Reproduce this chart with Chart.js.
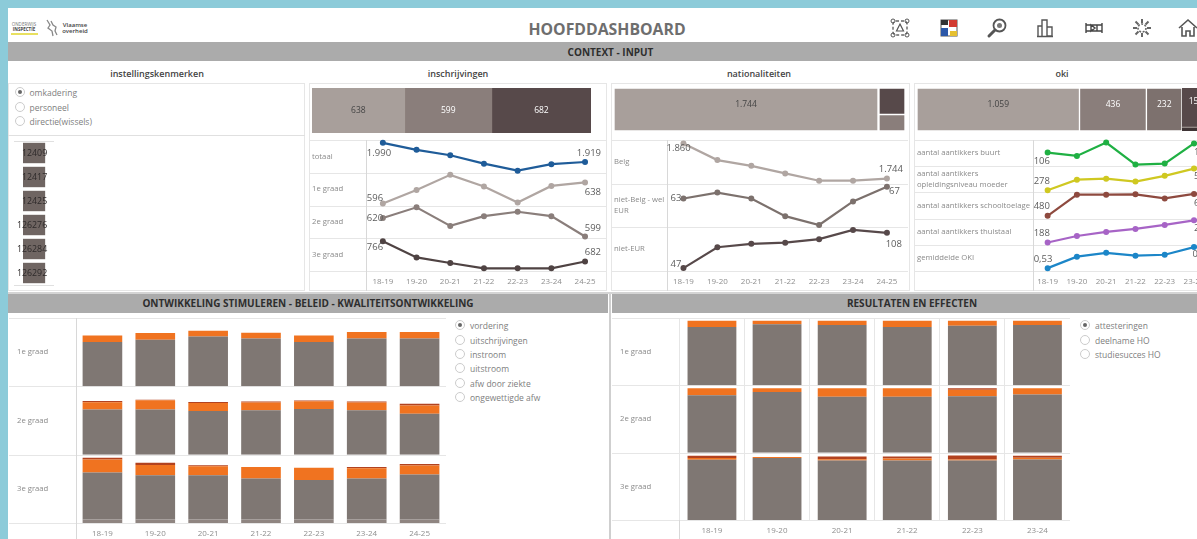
<!DOCTYPE html>
<html>
<head>
<meta charset="utf-8">
<title>Hoofddashboard</title>
<script src="https://cdn.jsdelivr.net/npm/chart.js@4"></script>
<style>
html, body { margin: 0; padding: 0; width: 1197px; height: 539px; overflow: hidden; background: #fff; font-family: "Open Sans", sans-serif; }
canvas { position: absolute; }
.box { position: absolute; }
.txt { position: absolute; white-space: nowrap; transform: translate(-50%, -50%); }
.band { position: absolute; background: #ababab; color: #2e2e2e; font-weight: 700; font-size: 10px; text-align: center; box-sizing: border-box; }
.sub { font-size: 9px; font-weight: 600; color: #444; }
.frame { position: absolute; border: 1px solid #e6e6e6; box-sizing: border-box; }
.radio { position: absolute; width: 10px; height: 10px; border: 1px solid #cccccc; border-radius: 50%; box-sizing: border-box; }
.radio.on::after { content: ""; position: absolute; left: 2px; top: 2px; width: 4px; height: 4px; border-radius: 50%; background: #666; }
.radiotxt { position: absolute; font-size: 8.5px; color: #808080; white-space: nowrap; transform: translateY(-50%); }
svg { position: absolute; }
</style>
</head>
<body>
<script>
// schooljaren
const schoolYears = ['18-19', '19-20', '20-21', '21-22', '22-23', '23-24', '24-25'];
const resultYears = ['18-19', '19-20', '20-21', '21-22', '22-23', '23-24'];
const gradeLabels = ['1e graad', '2e graad', '3e graad'];

// instellingskenmerken
const schoolNumbers = ['12409', '12417', '12425', '126276', '126284', '126292'];
const schoolValues = [8, 8, 8, 8, 8, 8];

// inschrijvingen
const inschrijvingenLabels = ['totaal', '1e graad', '2e graad', '3e graad'];
const inschrijvingenTotaal = [1990, 1964, 1944, 1913, 1887, 1911, 1919];
const inschrijvingen1e = [596, 623, 653, 630, 598, 631, 638];
const inschrijvingen2e = [620, 632, 611, 622, 627, 622, 599];
const inschrijvingen3e = [766, 699, 676, 654, 654, 654, 682];
const inschrijvingenBlocks = [638, 599, 682];

// nationaliteiten
const nationaliteitLabels = ['Belg', ['niet-Belg - wel', 'EUR'], 'niet-EUR'];
const nationaliteitBelg = [1860, 1805, 1786, 1761, 1737, 1737, 1744];
const nationaliteitEur = [63, 65, 63, 57, 54, 62, 67];
const nationaliteitNietEur = [47, 83, 89, 91, 97, 113, 108];
const nationaliteitBlocks = [1744];
const nationaliteitRest = [108, 67];

// oki
const okiLabels = ['aantal aantikkers buurt', ['aantal aantikkers', 'opleidingsniveau moeder'], 'aantal aantikkers schooltoelage', 'aantal aantikkers thuistaal', 'gemiddelde OKI'];
const okiBuurt = [106, 99, 127, 81, 83, 125, 126];
const okiMoeder = [278, 388, 398, 368, 428, 504, 520];
const okiToelage = [480, 636, 636, 638, 608, 641, 640];
const okiThuistaal = [188, 201, 209, 215, 223, 232, 234];
const okiGemiddeld = [0.53, 0.59, 0.61, 0.595, 0.60, 0.64, 0.65];
const okiBlocks = [1059, 436, 232];
const okiRest = [150, 4, 14];

// ontwikkeling stimuleren: vordering per graad
const vordering1eA = [65, 68, 73, 70, 65, 70, 70];
const vordering1eB = [9.4, 9.9, 8.4, 8.4, 9.4, 9.4, 9.4];
const vordering1eC = [0, 0, 0, 0, 0, 0, 0];
const vordering2eA = [66, 66, 64, 65, 67, 65, 60];
const vordering2eB = [10.6, 13.5, 11.5, 11.5, 11.1, 11.5, 12];
const vordering2eC = [1.9, 1, 1.4, 1.4, 1, 1.4, 2.4];
const vordering3eBase = [5, 5, 5, 5, 5, 5, 5];
const vordering3eA = [69, 65, 65, 60, 58, 60, 66];
const vordering3eB = [19, 15, 13, 17, 18, 15, 13];
const vordering3eC = [2.5, 3, 1.5, 0, 0, 2, 2.5];

// resultaten: attesteringen per graad
const attest1eA = [86.6, 90.6, 89.6, 86.6, 88.6, 89.6];
const attest1eB = [9.4, 5.4, 6.4, 9.4, 7.4, 6.4];
const attest1eC = [0, 0, 0, 0, 0, 0];
const attest2eA = [85.4, 90.2, 82.9, 82.9, 83.9, 86.3];
const attest2eB = [10.2, 5.4, 12.7, 12.7, 9.7, 9.3];
const attest2eC = [0, 0, 0, 0, 2, 0];
const attest3eA = [89.4, 91.9, 88.4, 88.4, 88.4, 89.9];
const attest3eB = [2.5, 1.5, 2, 3, 1.5, 2.5];
const attest3eC = [3.5, 0, 4, 3, 6, 3];

const GREY = '#7f7773', ORANGE = '#f07320', RED = '#b2421f', BASE = '#8f8581';
const LIGHT = '#a89f9b', MID = '#8a7e7b', DARK = '#57494a';
const FONT = '"Open Sans", sans-serif';
const LINE_GRID = '#e6e6e6';

function el(cls, css, text, tag) {
    var d = document.createElement(tag || 'div');
    d.className = cls;
    Object.assign(d.style, css);
    if (text) d.textContent = text;
    document.body.appendChild(d);
    return d;
}

function px(v) { return v + 'px'; }

function text(cx, cy, str, css, cls) {
    el('txt ' + (cls || ''), Object.assign({ left: px(cx), top: px(cy) }, css), str);
}

function canvasAt(x, y, w, h) {
    var c = document.createElement('canvas');
    c.width = w; c.height = h;
    c.style.left = px(x); c.style.top = px(y);
    c.style.width = px(w); c.style.height = px(h);
    document.body.appendChild(c);
    return c.getContext('2d');
}

// rijlabels, scheidingslijnen en de as links
const rowFrame = {
    id: 'rowFrame',
    beforeDraw(chart, args, opts) {
        var ctx = chart.ctx, area = chart.chartArea;
        var right = opts.toEdge ? chart.width : area.right;
        ctx.save();
        ctx.strokeStyle = LINE_GRID;
        ctx.lineWidth = 1;
        var labels = chart.$rowLabels;
        labels.forEach(function (lab, i) {
            var s = chart.scales['y' + i];
            [s.top, s.bottom].forEach(function (y) {
                ctx.beginPath();
                ctx.moveTo(0, Math.round(y) + 0.5);
                ctx.lineTo(right, Math.round(y) + 0.5);
                ctx.stroke();
            });
            ctx.fillStyle = '#8a8a8a';
            ctx.font = '7.7px ' + FONT;
            ctx.textBaseline = 'middle';
            ctx.textAlign = 'left';
            var lines = Array.isArray(lab) ? lab : [lab];
            var mid = (s.top + s.bottom) / 2;
            lines.forEach(function (l, k) {
                ctx.fillText(l, opts.labelX, mid + (k - (lines.length - 1) / 2) * 11);
            });
        });
        ctx.beginPath();
        ctx.moveTo(Math.round(area.left) + 0.5, area.top);
        ctx.lineTo(Math.round(area.left) + 0.5, chart.height);
        ctx.strokeStyle = '#d8d8d8';
        ctx.stroke();
        ctx.restore();
    }
};

// eerste en laatste waarde bij elke lijn
const endLabels = {
    id: 'endLabels',
    afterDatasetsDraw(chart) {
        var ctx = chart.ctx, cfg = chart.$endLabels;
        ctx.save();
        ctx.fillStyle = '#5c5c5c';
        ctx.font = '9.5px ' + FONT;
        ctx.textBaseline = 'middle';
        chart.data.datasets.forEach(function (ds, i) {
            var pts = chart.getDatasetMeta(i).data;
            var a = pts[0], b = pts[pts.length - 1];
            var c = cfg[i];
            ctx.textAlign = 'left';
            ctx.fillText(formatValue(ds.data[0]), a.x + c[0], a.y + c[1]);
            ctx.textAlign = 'right';
            ctx.fillText(formatValue(ds.data[pts.length - 1]), b.x + c[2], b.y + c[3]);
        });
        ctx.restore();
    }
};

function formatValue(v) {
    if (v < 1) return v.toFixed(2).replace('.', ',');
    return v >= 1000 ? String(v).replace(/(\d)(\d{3})$/, '$1.$2') : String(v);
}

function rowScales(ranges) {
    var out = {};
    ranges.forEach(function (r, i) {
        out['y' + i] = {
            type: 'linear', position: 'left', stack: 'rows', stackWeight: 1,
            weight: ranges.length - i, min: r[0], max: r[1],
            ticks: { display: false }, grid: { display: false }, border: { display: false },
            afterFit: function (s) { s.width = 0; }
        };
    });
    return out;
}

function xScale(labels, stacked, grid) {
    return {
        type: 'category', labels: labels, offset: true, stacked: stacked,
        ticks: { color: '#8f8f8f', font: { size: 8, family: FONT }, padding: 6, maxRotation: 0, autoSkip: false },
        grid: { display: !!grid, color: LINE_GRID, drawTicks: false, offset: true },
        border: { display: false },
        afterFit: function (s) { s.height = 20; }
    };
}

function linePanel(box, padLeft, years, rowLabels, series, colors, ranges, offsets) {
    var ctx = canvasAt(box[0], box[1], box[2], box[3]);
    var scales = rowScales(ranges);
    scales.x = xScale(years, false);
    var chart = new Chart(ctx, {
        type: 'line',
        data: {
            labels: years,
            datasets: series.map(function (vals, i) {
                return {
                    data: vals, yAxisID: 'y' + i, borderColor: colors[i], backgroundColor: colors[i],
                    borderWidth: 2.2, pointRadius: 1.9, pointHoverRadius: 1.9, tension: 0, clip: false
                };
            })
        },
        options: {
            responsive: false, animation: false, maintainAspectRatio: false,
            layout: { padding: { left: padLeft, right: 0, top: 0, bottom: 0 } },
            plugins: { legend: { display: false }, tooltip: { enabled: false }, rowFrame: { labelX: 3, toEdge: true } },
            scales: scales
        },
        plugins: [{ id: 'cfg', beforeInit(c) { c.$rowLabels = rowLabels; c.$endLabels = offsets; } }, rowFrame, endLabels]
    });
    return chart;
}

function barPanel(box, padLeft, years, stacks, gridX) {
    var ctx = canvasAt(box[0], box[1], box[2], box[3]);
    var scales = rowScales([[0, 100], [0, 100], [0, 100]]);
    Object.keys(scales).forEach(function (k) { scales[k].stacked = true; });
    scales.x = xScale(years, true, gridX);
    var datasets = [];
    stacks.forEach(function (row, r) {
        var fills = row.length === 4 ? [BASE, GREY, ORANGE, RED] : [GREY, ORANGE, RED];
        row.forEach(function (vals, k) {
            datasets.push({ data: vals, yAxisID: 'y' + r, backgroundColor: fills[k], categoryPercentage: 0.75, barPercentage: 1 });
        });
    });
    new Chart(ctx, {
        type: 'bar',
        data: { labels: years, datasets: datasets },
        options: {
            responsive: false, animation: false, maintainAspectRatio: false,
            layout: { padding: { left: padLeft, right: 0, top: 0, bottom: 0 } },
            plugins: { legend: { display: false }, tooltip: { enabled: false }, rowFrame: { labelX: 8, toEdge: false } },
            scales: scales
        },
        plugins: [{ id: 'cfg', beforeInit(c) { c.$rowLabels = gradeLabels; } }, rowFrame]
    });
}

// getallen midden in een blok
const blockLabels = {
    id: 'blockLabels',
    afterDatasetsDraw(chart) {
        var ctx = chart.ctx, o = chart.$block;
        if (!o.show) return;
        ctx.save();
        ctx.font = '8.5px ' + FONT;
        ctx.textAlign = 'center';
        ctx.textBaseline = 'middle';
        chart.data.datasets.forEach(function (ds, i) {
            var p = chart.getDatasetMeta(i).data[0].getCenterPoint();
            ctx.fillStyle = ds.backgroundColor === LIGHT ? '#444' : '#fff';
            ctx.fillText(formatValue(ds.data[0]), p.x, p.y + o.dy);
        });
        ctx.restore();
    }
};

function blocks(box, values, colors, total, horizontal, gap, show, dy) {
    var ctx = canvasAt(box[0], box[1], box[2], box[3]);
    var val = { display: false, stacked: true, min: 0, max: total, reverse: !horizontal };
    var cat = { display: false, stacked: true };
    new Chart(ctx, {
        type: 'bar',
        data: {
            labels: [''],
            datasets: values.map(function (v, i) {
                return {
                    data: [v], backgroundColor: colors[i], categoryPercentage: 1, barPercentage: 1,
                    borderColor: '#fff', borderWidth: gap, borderSkipped: false
                };
            })
        },
        options: {
            indexAxis: horizontal ? 'y' : 'x',
            responsive: false, animation: false, maintainAspectRatio: false,
            layout: { padding: 0 },
            plugins: { legend: { display: false }, tooltip: { enabled: false } },
            scales: horizontal ? { x: val, y: cat } : { x: cat, y: val }
        },
        plugins: [{ id: 'cfg', beforeInit(c) { c.$block = { show: show, dy: dy }; } }, blockLabels]
    });
}

function radios(x, ys, labels) {
    labels.forEach(function (l, i) {
        el('radio' + (i === 0 ? ' on' : ''), { left: px(x - 5), top: px(ys[i] - 5) });
        el('radiotxt', { left: px(x + 10), top: px(ys[i]) }, l);
    });
}

// kaders en banden
el('box', { left: 0, top: 0, width: '1197px', height: '8px', background: '#8ccbd9' });
el('box', { left: 0, top: 0, width: '8px', height: '539px', background: '#8ccbd9' });
el('band', { left: '8px', top: '42px', width: '1189px', height: '19px', lineHeight: '20px', paddingLeft: '16px' }, 'CONTEXT - INPUT');
el('band', { left: '8px', top: '294px', width: '600px', height: '19px', lineHeight: '19px' }, 'ONTWIKKELING STIMULEREN - BELEID - KWALITEITSONTWIKKELING');
el('band', { left: '612px', top: '294px', width: '600px', height: '19px', lineHeight: '19px' }, 'RESULTATEN EN EFFECTEN');
el('box', { left: '8px', top: '292px', width: '1189px', height: '2px', background: '#d4d4d4' });
el('box', { left: '609px', top: '294px', width: '2px', height: '245px', background: '#cfcfcf' });

el('frame', { left: '8px', top: '83px', width: '297px', height: '208px' });
el('frame', { left: '309px', top: '83px', width: '298px', height: '208px' });
el('frame', { left: '611px', top: '83px', width: '299px', height: '208px' });
el('frame', { left: '914px', top: '83px', width: '300px', height: '208px' });
el('box', { left: '8px', top: '135px', width: '297px', height: '1px', background: '#e0e0e0' });
el('box', { left: '14px', top: '141px', width: '40px', height: '1px', background: '#e0e0e0' });
el('box', { left: '14px', top: '285px', width: '40px', height: '1px', background: '#e0e0e0' });

text(607, 28.5, 'HOOFDDASHBOARD', { fontSize: '15.8px', fontWeight: 700, color: '#6e6e6e' });
text(157, 72.5, 'instellingskenmerken', {}, 'sub');
text(458, 72.5, 'inschrijvingen', {}, 'sub');
text(759, 72.5, 'nationaliteiten', {}, 'sub');
text(1062, 72.5, 'oki', {}, 'sub');

// logo
text(24, 24, 'ONDERWIJS', { fontSize: '4.5px', color: '#777' });
text(24, 29, 'INSPECTIE', { fontSize: '4.5px', color: '#444', fontWeight: 700 });
el('box', { left: '11px', top: '33px', width: '27px', height: '2px', background: '#e8e060' });
text(75, 25, 'Vlaamse', { fontSize: '6px', color: '#444', fontWeight: 600 });
text(75, 31, 'overheid', { fontSize: '6px', color: '#444', fontWeight: 600 });
var lion = document.createElementNS('http://www.w3.org/2000/svg', 'svg');
lion.setAttribute('width', '14'); lion.setAttribute('height', '20');
lion.setAttribute('viewBox', '0 0 14 20');
lion.style.left = '44px'; lion.style.top = '18px';
lion.innerHTML = '<path d="M3 2l3 5 -2 3 4 3 1 5M7 3l2 4 3 2 -1 4 2 4" fill="none" stroke="#888" stroke-width="1.3"/>';
document.body.appendChild(lion);

// knoppen rechtsboven
const iconMarkup = [
    '<rect x="4" y="4" width="14" height="14" rx="3" fill="none" stroke="#666" stroke-width="1.4" stroke-dasharray="3 2"/><circle cx="4" cy="4" r="2" fill="none" stroke="#555"/><circle cx="18" cy="4" r="2" fill="none" stroke="#555"/><circle cx="4" cy="18" r="2" fill="none" stroke="#555"/><circle cx="18" cy="18" r="2" fill="none" stroke="#555"/><path d="M11 7l3.5 7h-7z" fill="none" stroke="#555" stroke-width="1.2"/>',
    '<rect x="3" y="3" width="16" height="16" fill="#fff" stroke="#555"/><rect x="3" y="3" width="7" height="5" fill="#333"/><rect x="11" y="3" width="8" height="7" fill="#d23a30"/><rect x="3" y="11" width="7" height="8" fill="#2b57a8"/><rect x="12" y="14" width="7" height="5" fill="#e6c030"/>',
    '<circle cx="13.5" cy="8.5" r="6" fill="none" stroke="#555" stroke-width="1.8"/><circle cx="13.5" cy="8.5" r="2.5" fill="#777"/><path d="M9 13L3 19" stroke="#555" stroke-width="3" stroke-linecap="round"/>',
    '<path d="M4 19V9h4v10M8 19V3h5v16M13 19v-9h5v9z M3 19.5h16" fill="none" stroke="#555" stroke-width="1.4"/>',
    '<path d="M3 6v10M19 6v10M3 8h16M3 14h16M8 8v6l4-3 -4-3zM14 8v6" fill="none" stroke="#444" stroke-width="1.4"/>',
    '<circle cx="11" cy="11" r="4" fill="none" stroke="#666" stroke-width="1.6" stroke-dasharray="2 1.5"/><path d="M11 2v4M11 16v4M2 11h4M16 11h4M4.5 4.5l3 3M14.5 14.5l3 3M17.5 4.5l-3 3M7.5 14.5l-3 3" stroke="#666" stroke-width="2"/>',
    '<path d="M2 11l9-8 9 8M5 10v9h4v-5h4v5h4v-9" fill="none" stroke="#555" stroke-width="1.6"/>'
];
const iconCentres = [900, 949, 997, 1045, 1094, 1142, 1188];
iconMarkup.forEach(function (m, i) {
    var s = document.createElementNS('http://www.w3.org/2000/svg', 'svg');
    s.setAttribute('width', '22'); s.setAttribute('height', '22');
    s.setAttribute('viewBox', '0 0 22 22');
    s.style.left = px(iconCentres[i] - 11); s.style.top = '17px';
    s.innerHTML = m;
    document.body.appendChild(s);
});

radios(19.5, [92, 107, 121], ['omkadering', 'personeel', 'directie(wissels)']);
radios(460, [325, 340, 354, 368, 383, 397], ['vordering', 'uitschrijvingen', 'instroom', 'uitstroom', 'afw door ziekte', 'ongewettigde afw']);
radios(1085, [325, 340, 354], ['attesteringen', 'deelname HO', 'studiesucces HO']);

// instellingskenmerken
new Chart(canvasAt(10, 141, 290, 144), {
    type: 'bar',
    data: { labels: schoolNumbers, datasets: [{ data: schoolValues, backgroundColor: '#6f6562', categoryPercentage: 0.85, barPercentage: 1 }] },
    options: {
        indexAxis: 'y', responsive: false, animation: false, maintainAspectRatio: false,
        layout: { padding: { left: 13 } },
        plugins: { legend: { display: false }, tooltip: { enabled: false } },
        scales: { x: { display: false, min: 0, max: 100 }, y: { display: false } }
    },
    plugins: [{
        id: 'numbers',
        afterDatasetsDraw(chart) {
            var ctx = chart.ctx;
            ctx.save();
            ctx.fillStyle = '#2e2a2a';
            ctx.font = '8.8px ' + FONT;
            ctx.textAlign = 'right';
            ctx.textBaseline = 'middle';
            chart.getDatasetMeta(0).data.forEach(function (b, i) {
                ctx.fillText(schoolNumbers[i], b.x + 2, b.y);
            });
            ctx.restore();
        }
    }]
});

// blokken
blocks([312, 88, 279, 45], inschrijvingenBlocks, [LIGHT, MID, DARK], 1919, true, 0, true, 0);
blocks([614, 88, 264, 43], nationaliteitBlocks, [LIGHT], 1744, true, 1, true, -5);
blocks([879, 88, 26, 43], nationaliteitRest, [DARK, MID], 175, false, 1, false, 0);
blocks([917, 88, 265, 43], okiBlocks, [LIGHT, MID, '#7d716e'], 1727, true, 1, true, -5);
blocks([1182, 88, 29, 43], okiRest, [DARK, LIGHT, '#3f3435'], 168, false, 0, false, 0);
text(1196, 100, String(okiRest[0]), { fontSize: '8.5px', color: '#fff' });

// lijnen
linePanel([309, 136, 297, 155], 57, schoolYears, inschrijvingenLabels,
    [inschrijvingenTotaal, inschrijvingen1e, inschrijvingen2e, inschrijvingen3e],
    ['#1f5c99', '#b0a6a2', '#8a7e7b', '#4f4343'],
    [[1879, 2000], [592, 657], [597, 634], [643, 778]],
    [[-16, 10, 16, -9], [-16, -5, 16, 10], [-16, 0, 16, -8], [-16, 6, 16, -9]]);

linePanel([611, 136, 297, 155], 55.5, schoolYears, nationaliteitLabels,
    [nationaliteitBelg, nationaliteitEur, nationaliteitNietEur],
    ['#b0a6a2', '#7c716d', '#57494a'],
    [[1727, 1871], [53.2, 68], [42, 117.4]],
    [[-17, 5, 16, -9], [-13, 0, 13, 5], [-13, -4, 15, 11]]);

linePanel([914, 136, 328, 155], 119, schoolYears, okiLabels,
    [okiBuurt, okiMoeder, okiToelage, okiThuistaal, okiGemiddeld],
    ['#1fb043', '#cfc821', '#8e4a3f', '#a764c6', '#1c86c8'],
    [[77.4, 132], [254, 528], [459, 652], [183.4, 235.4], [0.515, 0.652]],
    [[-14, 9, -13, 9], [-14, -9, -13, 9], [-14, -9, -13, 9], [-14, -9, -13, 9], [-14, -9, -12, 9]]);

// gestapelde balken
barPanel([9, 318, 437, 225], 67, schoolYears, [
    [vordering1eA, vordering1eB, vordering1eC],
    [vordering2eA, vordering2eB, vordering2eC],
    [vordering3eBase, vordering3eA, vordering3eB, vordering3eC]
], false);

barPanel([612, 318, 458, 222], 67.4, resultYears, [
    [attest1eA, attest1eB, attest1eC],
    [attest2eA, attest2eB, attest2eC],
    [attest3eA, attest3eB, attest3eC]
], true);
</script>
</body>
</html>
